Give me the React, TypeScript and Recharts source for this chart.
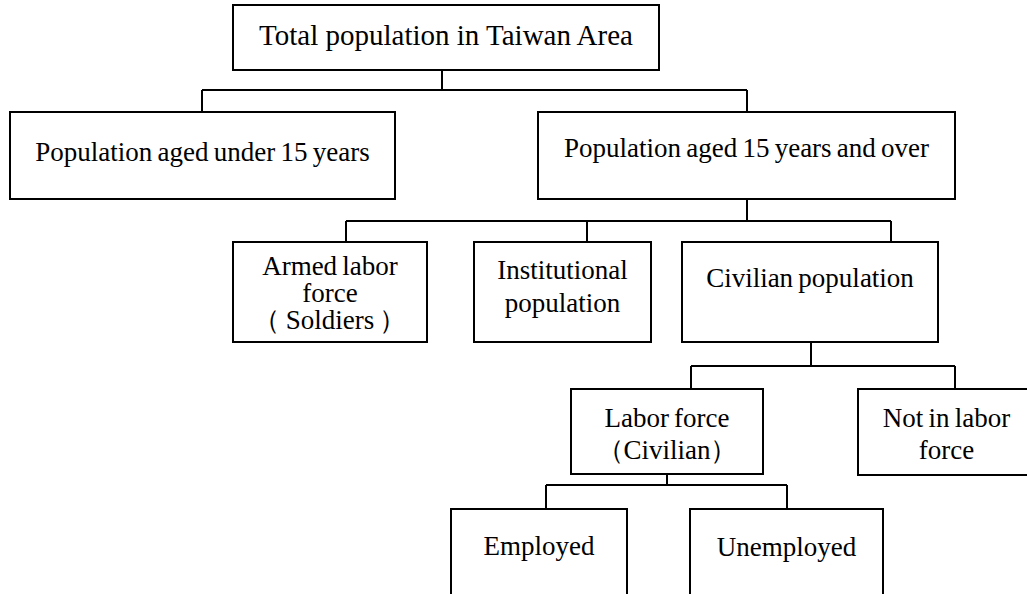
import React from "react";
import {
  ReferenceArea,
  ReferenceLine,
  Scatter,
  ScatterChart,
  XAxis,
  YAxis,
} from "recharts";

// tree nodes: label lines and parent index
const NODE_LABELS: string[][] = [
  ["Total population in Taiwan Area"],
  ["Population aged under 15 years"],
  ["Population aged 15 years and over"],
  ["Armed labor", "force", "（ Soldiers ）"],
  ["Institutional", "population"],
  ["Civilian population"],
  ["Labor force", "（Civilian）"],
  ["Not in labor", "force"],
  ["Employed"],
  ["Unemployed"],
];

const NODE_PARENT = [-1, 0, 0, 2, 2, 2, 5, 5, 6, 6];

// diagram layout, in diagram units (0..1027 across, 0..594 down)
const BOX_LEFT = [233, 10, 538, 233, 474, 682, 571, 858, 451, 690];
const BOX_RIGHT = [659, 395, 955, 427, 651, 938, 763, 1035, 627, 883];
const BOX_TOP = [5, 112, 112, 242, 242, 242, 389, 389, 509, 509];
const BOX_BOTTOM = [70, 199, 199, 342, 342, 342, 474, 475, 620, 620];

// where the line leaves a parent, the y of its bus, where it enters a child
const STEM_X = [442, null, 747, null, null, 811, 667, null, null, null];
const BUS_Y = [90, null, 221, null, null, 366, 485, null, null, null];
const DROP_X = [null, 202, 747, 346, 587, 891, 691, 955, 546, 787];

// centre of each text line
const TEXT_LINE_Y: number[][] = [
  [35],
  [152],
  [148],
  [266, 293, 320],
  [270, 303],
  [278],
  [418, 450],
  [418, 450],
  [546],
  [547],
];

const W = 1027;
const H = 594;

const textPoints = NODE_LABELS.flatMap((lines, i) =>
  lines.map((text, j) => ({
    x: (BOX_LEFT[i] + BOX_RIGHT[i]) / 2,
    y: TEXT_LINE_Y[i][j],
    text,
    root: i === 0,
  }))
);

type Seg = [{ x: number; y: number }, { x: number; y: number }];

const segments: Seg[] = [];
NODE_LABELS.forEach((_, p) => {
  const kids = NODE_PARENT.map((par, i) => (par === p ? i : -1)).filter(
    (i) => i >= 0
  );
  if (!kids.length) return;
  const stem = STEM_X[p] as number;
  const bus = BUS_Y[p] as number;
  segments.push([
    { x: stem, y: BOX_BOTTOM[p] },
    { x: stem, y: bus },
  ]);
  const xs = kids.map((k) => DROP_X[k] as number);
  segments.push([
    { x: Math.min(...xs), y: bus },
    { x: Math.max(...xs), y: bus },
  ]);
  kids.forEach((k) => {
    segments.push([
      { x: DROP_X[k] as number, y: bus },
      { x: DROP_X[k] as number, y: BOX_TOP[k] },
    ]);
  });
});

const FONT = "'Liberation Serif', 'Times New Roman', Times, serif";

const renderText = (props: any) => {
  const { cx, cy, payload } = props;
  return (
    <text
      x={cx}
      y={cy}
      textAnchor="middle"
      dominantBaseline="central"
      style={{
        fontFamily: FONT,
        fontSize: payload.root ? 29 : 27,
        wordSpacing: payload.root ? 0 : -1.5,
      }}
      fill="#000"
    >
      {payload.text}
    </text>
  );
};

export default function App() {
  return (
    <div
      style={{
        position: "absolute",
        left: 0,
        top: 0,
        width: W,
        height: H,
        background: "#fff",
        fontFamily: FONT,
      }}
    >
      <ScatterChart
        width={W}
        height={H}
        margin={{ top: 0, right: 0, bottom: 0, left: 0 }}
      >
        <XAxis
          type="number"
          dataKey="x"
          domain={[0, W]}
          allowDataOverflow
          hide
        />
        <YAxis
          type="number"
          dataKey="y"
          domain={[0, H]}
          allowDataOverflow
          reversed
          hide
        />

        {segments.map((seg, i) => (
          <ReferenceLine
            key={"s" + i}
            segment={seg}
            stroke="#000"
            strokeWidth={2}
            ifOverflow="visible"
          />
        ))}

        {NODE_LABELS.map((_, i) => (
          <ReferenceArea
            key={"b" + i}
            x1={BOX_LEFT[i]}
            x2={BOX_RIGHT[i]}
            y1={BOX_TOP[i]}
            y2={BOX_BOTTOM[i]}
            fill="#fff"
            fillOpacity={1}
            stroke="#000"
            strokeWidth={2}
            ifOverflow="visible"
          />
        ))}

        <Scatter
          data={textPoints}
          shape={renderText}
          isAnimationActive={false}
        />
      </ScatterChart>
    </div>
  );
}
